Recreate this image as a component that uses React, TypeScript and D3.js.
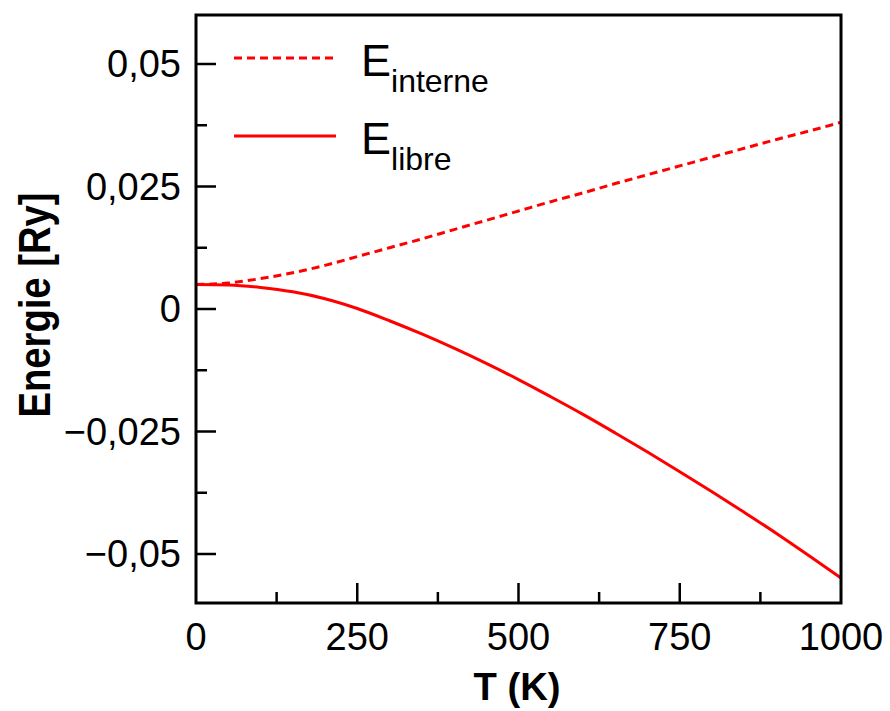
import React, { useEffect, useRef } from "react";
import * as d3 from "d3";

const temps = [0, 50, 100, 150, 200, 250, 300, 350, 400, 450, 500, 550, 600, 650, 700, 750, 800, 850, 900, 950, 1000];
const eInterne = [0.005, 0.0053, 0.0062, 0.0074, 0.0089, 0.0107, 0.0125, 0.0143, 0.0162, 0.0181, 0.02, 0.0219, 0.0237, 0.0256, 0.0274, 0.0292, 0.031, 0.0328, 0.0346, 0.0363, 0.0381];
const eLibre = [0.005, 0.0049, 0.0044, 0.0035, 0.0021, 0.0001, -0.0024, -0.0051, -0.008, -0.0111, -0.0144, -0.0179, -0.0215, -0.0253, -0.0292, -0.0332, -0.0373, -0.0415, -0.0458, -0.0503, -0.0549];
const xTicks = [0, 250, 500, 750, 1000];
const yTicks = [-0.05, -0.025, 0, 0.025, 0.05];

const fmt = (v: number) => {
  if (v === 0) return "0";
  const s = Math.abs(v).toString().replace(".", ",");
  return (v < 0 ? "\u22120" : "0") + s.slice(1);
};

const App: React.FC = () => {
  const ref = useRef<SVGSVGElement>(null);

  useEffect(() => {
    document.body.style.margin = "0";
    const width = 890;
    const height = 711;
    const m = { left: 196, right: 841, top: 15, bottom: 603 };

    const svg = d3.select(ref.current);
    svg.selectAll("*").remove();
    svg.attr("width", width).attr("height", height).style("font-family", "'Liberation Sans', Arial, sans-serif");

    const x = d3.scaleLinear().domain([0, 1000]).range([m.left, m.right]);
    const y = d3.scaleLinear().domain([-0.06, 0.06]).range([m.bottom, m.top]);

    // ticks, inward
    const xMinor = d3.range(125, 1000, 250);
    const yMinor = d3.range(-0.0375, 0.05, 0.025);
    const tickG = svg.append("g").attr("stroke", "#000").attr("stroke-width", 2.5);
    xTicks.slice(1, -1).forEach((t) =>
      tickG.append("line").attr("x1", x(t)).attr("x2", x(t)).attr("y1", m.bottom).attr("y2", m.bottom - 20)
    );
    xMinor.forEach((t) =>
      tickG.append("line").attr("x1", x(t)).attr("x2", x(t)).attr("y1", m.bottom).attr("y2", m.bottom - 11)
    );
    yTicks.forEach((t) =>
      tickG.append("line").attr("x1", m.left).attr("x2", m.left + 20).attr("y1", y(t)).attr("y2", y(t))
    );
    yMinor.forEach((t) =>
      tickG.append("line").attr("x1", m.left).attr("x2", m.left + 11).attr("y1", y(t)).attr("y2", y(t))
    );

    // tick labels
    svg
      .selectAll(".xl")
      .data(xTicks)
      .enter()
      .append("text")
      .attr("x", (d) => x(d))
      .attr("y", 650)
      .attr("text-anchor", "middle")
      .style("font-size", "38px")
      .text((d) => String(d));

    svg
      .selectAll(".yl")
      .data(yTicks)
      .enter()
      .append("text")
      .attr("x", 181)
      .attr("y", (d) => y(d) + 13)
      .attr("text-anchor", "end")
      .style("font-size", "38px")
      .text((d) => fmt(d));

    // axis titles
    svg
      .append("text")
      .attr("x", 517)
      .attr("y", 700)
      .attr("text-anchor", "middle")
      .attr("textLength", 87)
      .attr("lengthAdjust", "spacingAndGlyphs")
      .style("font-size", "38px")
      .style("font-weight", "bold")
      .text("T (K)");

    svg
      .append("text")
      .attr("transform", `translate(50,305) rotate(-90)`)
      .attr("text-anchor", "middle")
      .attr("textLength", 225)
      .attr("lengthAdjust", "spacingAndGlyphs")
      .style("font-size", "44px")
      .style("font-weight", "bold")
      .text("Energie [Ry]");

    // curves
    const line = d3
      .line<number>()
      .x((_, i) => x(temps[i]))
      .y((d) => y(d))
      .curve(d3.curveMonotoneX);

    svg
      .append("path")
      .attr("d", line(eInterne))
      .attr("fill", "none")
      .attr("stroke", "#ff0000")
      .attr("stroke-width", 3)
      .attr("stroke-dasharray", "8,5");

    svg
      .append("path")
      .attr("d", line(eLibre))
      .attr("fill", "none")
      .attr("stroke", "#ff0000")
      .attr("stroke-width", 3);

    // frame
    svg
      .append("rect")
      .attr("x", m.left)
      .attr("y", m.top)
      .attr("width", m.right - m.left)
      .attr("height", m.bottom - m.top)
      .attr("fill", "none")
      .attr("stroke", "#000")
      .attr("stroke-width", 3);

    // legend
    const legend = [
      { name: "interne", dash: "8,5", y: 58 },
      { name: "libre", dash: null, y: 136 },
    ];
    legend.forEach((l) => {
      svg
        .append("line")
        .attr("x1", 234)
        .attr("x2", 336)
        .attr("y1", l.y)
        .attr("y2", l.y)
        .attr("stroke", "#ff0000")
        .attr("stroke-width", 3)
        .attr("stroke-dasharray", l.dash);
      const t = svg
        .append("text")
        .attr("x", 361)
        .attr("y", l.y + 18)
        .style("font-size", "45px");
      t.append("tspan").text("E");
      t.append("tspan").attr("dy", 16).style("font-size", "32px").text(l.name);
    });
  }, []);

  return <svg ref={ref}></svg>;
};

export default App;
